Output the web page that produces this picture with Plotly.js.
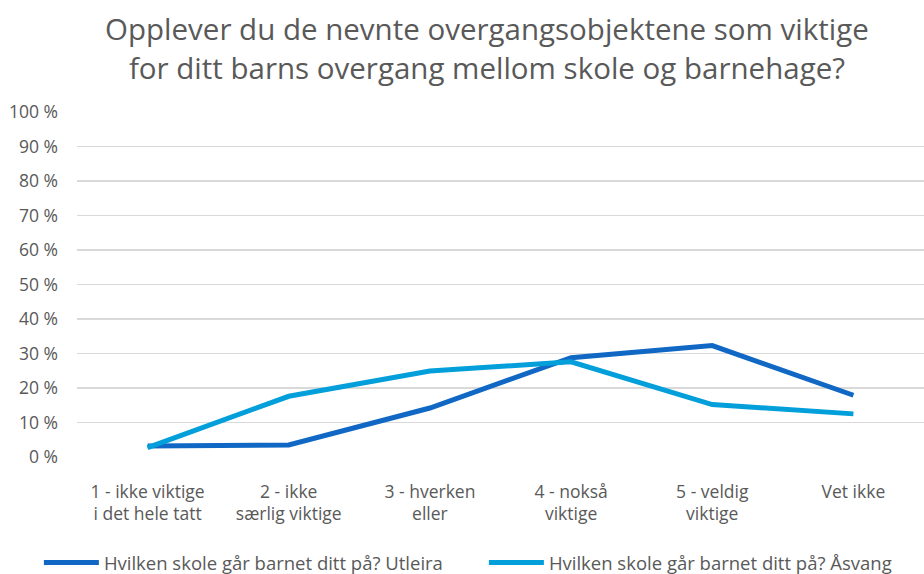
<!DOCTYPE html>
<html>
<head>
<meta charset="utf-8">
<script src="https://cdn.plot.ly/plotly-3.0.1.min.js"></script>
<style>html,body{margin:0;padding:0;background:#fff;}#chart{width:924px;height:574px;}</style>
</head>
<body>
<div id="chart"></div>
<script>
const categories = ["1 - ikke viktige<br>i det hele tatt", "2 - ikke<br>særlig viktige", "3 - hverken<br>eller", "4 - nokså<br>viktige", "5 - veldig<br>viktige", "Vet ikke"];
const utleira = [3.2, 3.5, 14.2, 28.8, 32.3, 17.9];
const asvang = [2.7, 17.6, 24.9, 27.6, 15.2, 12.5];
const seriesNames = ["Hvilken skole går barnet ditt på? Utleira", "Hvilken skole går barnet ditt på? Åsvang"];
const tickVals = [0,10,20,30,40,50,60,70,80,90,100];
const tickText = tickVals.map(v => v + " %");

const font = "'Open Sans', sans-serif";
const traces = [
  {x: categories, y: utleira, name: seriesNames[0], type: "scatter", mode: "lines",
   line: {color: "#1068C4", width: 5}},
  {x: categories, y: asvang, name: seriesNames[1], type: "scatter", mode: "lines",
   line: {color: "#039FDA", width: 5}}
];
const layout = {
  width: 924, height: 574,
  margin: {l: 77, r: 0, t: 112, b: 117, autoexpand: false},
  paper_bgcolor: "#fff", plot_bgcolor: "#fff",
  font: {family: font, color: "#595959", size: 17},
  title: {text: "Opplever du de nevnte overgangsobjektene som viktige<br>for ditt barns overgang mellom skole og barnehage?",
          x: 0.527, xanchor: "center", y: 0.93, yanchor: "middle",
          font: {size: 29.5, color: "#595959", family: font}},
  xaxis: {type: "category", range: [-0.5, 5.5], showgrid: false, zeroline: false, showline: false,
          ticks: "", ticklabelstandoff: 22, tickfont: {size: 17.5, color: "#595959"}, automargin: false},
  yaxis: {range: [0, 100], tickvals: tickVals, ticktext: tickText, showgrid: true,
          gridcolor: "#D9D9D9", gridwidth: 1.5, zeroline: false, showline: false,
          ticks: "", ticklen: 0, ticklabelstandoff: 18, tickfont: {size: 17.5, color: "#595959"}, automargin: false},
  showlegend: true,
  legend: {orientation: "h", x: -0.045, xanchor: "left", y: -0.307, yanchor: "middle",
           font: {size: 18.5, color: "#595959"}, itemwidth: 55, tracegroupgap: 0,
           entrywidth: 375, entrywidthmode: "pixels"}
};
Plotly.newPlot("chart", traces, layout, {staticPlot: true});
</script>
</body>
</html>
